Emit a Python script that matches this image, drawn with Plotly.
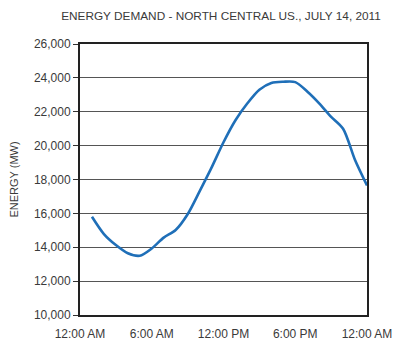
import plotly.graph_objects as go

hours = list(range(1, 25))
demand_mw = [15800, 14780, 14130, 13650, 13500, 13930, 14570, 15020, 15950, 17300,
             18700, 20200, 21500, 22500, 23300, 23700, 23770, 23750, 23200, 22500,
             21700, 21000, 19150, 17650]

tick_vals = [0, 6, 12, 18, 24]
tick_text = ["12:00 AM", "6:00 AM", "12:00 PM", "6:00 PM", "12:00 AM"]
y_ticks = [10000, 12000, 14000, 16000, 18000, 20000, 22000, 24000, 26000]

FONT = "Liberation Sans, Arial, sans-serif"
TXT = "#3a3a3a"

# the page body has an 8px default margin, so the figure is sized to fill the rest
W, H = 392, 349

fig = go.Figure()
fig.add_trace(go.Scatter(
    x=hours, y=demand_mw, mode="lines",
    line=dict(color="#1f6fb8", width=2.6, shape="spline", smoothing=0.8),
    hoverinfo="skip", showlegend=False,
))

fig.update_layout(
    width=W, height=H,
    margin=dict(l=72, r=33, t=36, b=42),
    paper_bgcolor="white", plot_bgcolor="white",
    font=dict(family=FONT, size=12, color=TXT),
    title=dict(text="ENERGY DEMAND - NORTH CENTRAL US., JULY 14, 2011",
               x=213 / W, xref="container", xanchor="center",
               y=1 - 8 / H, yref="container", yanchor="middle",
               automargin=False,
               font=dict(family=FONT, size=11.8, color=TXT)),
)

fig.update_xaxes(
    range=[0, 24], tickvals=tick_vals, ticktext=tick_text,
    showgrid=False, zeroline=False, showline=True, linecolor="#222222", linewidth=2,
    mirror=True, ticks="", ticklabelstandoff=7, automargin=False,
    tickfont=dict(family=FONT, size=12, color=TXT),
)
fig.update_yaxes(
    range=[10000, 26000], tickvals=y_ticks, tickformat=",d",
    showgrid=True, gridcolor="#555555", gridwidth=1.3, zeroline=False,
    showline=True, linecolor="#222222", linewidth=2, mirror=True,
    ticks="outside", ticklen=5, tickcolor="#333333", tickwidth=1.2,
    automargin=False,
    tickfont=dict(family=FONT, size=12, color=TXT),
    title=dict(text="ENERGY (MW)", standoff=18, font=dict(family=FONT, size=11, color=TXT)),
)

fig.write_html("out.html")
